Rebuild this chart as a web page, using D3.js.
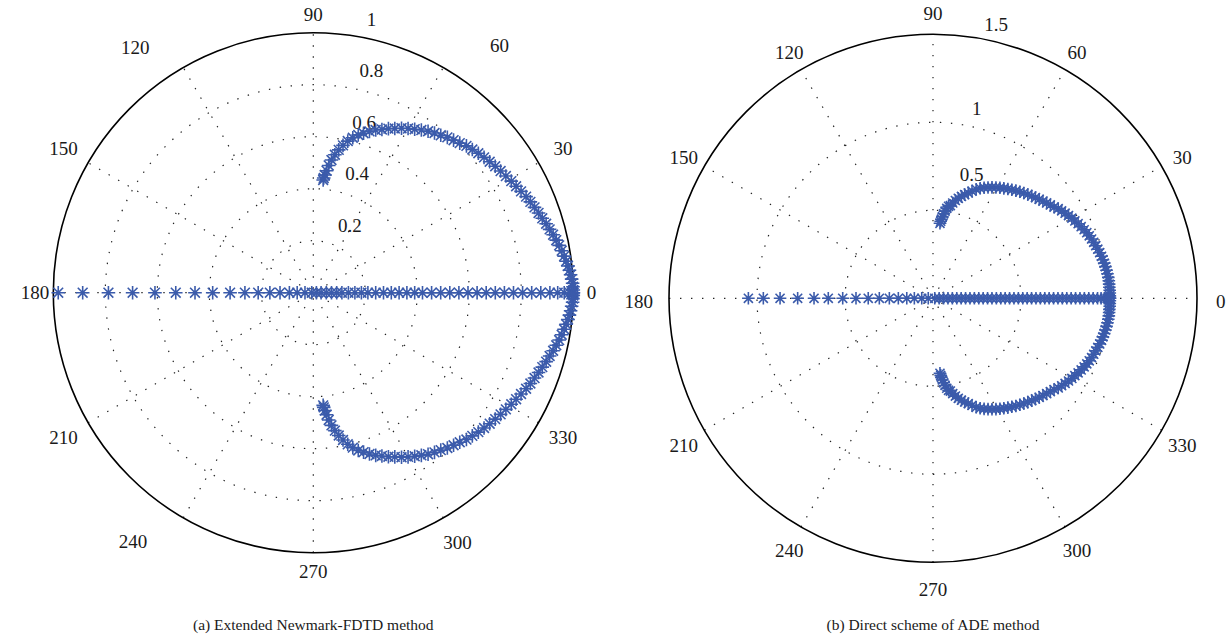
<!DOCTYPE html>
<html>
<head>
<meta charset="utf-8">
<script src="https://cdn.jsdelivr.net/npm/d3@7"></script>
<style>
  body { margin: 0; background: #fff; }
  text { font-family: "Liberation Serif", "DejaVu Serif", serif; fill: #1a1a1a; }
</style>
</head>
<body>
<svg id="chart" width="1230" height="642"></svg>
<script>
// angle tick labels (degrees)
const angleTicks = [0, 30, 60, 90, 120, 150, 180, 210, 240, 270, 300, 330];

// radial ticks of each panel
const leftRings = [0.2, 0.4, 0.6, 0.8, 1];
const rightRings = [0.5, 1, 1.5];

// (a) Extended Newmark-FDTD: complex branch, upper half [angle deg], [magnitude]
// (the lower half is its complex conjugate)
const leftArcAngle = [0, 0.6, 1.3, 2.1, 3.0, 4.0, 5.0, 6.0, 7.1, 8.3, 9.6, 10.9, 12.2, 13.6, 15.0,
  16.5, 18.0, 19.5, 21.1, 22.7, 24.3, 26.0, 27.7, 29.4, 31.2, 33.0, 34.8, 36.6, 38.4, 40.2, 42.0,
  43.8, 45.6, 47.4, 49.2, 51.0, 52.8, 54.6, 56.4, 58.2, 60.0, 61.8, 63.6, 65.4, 67.2, 69.0, 70.8,
  72.5, 74.1, 75.7, 77.2, 78.6, 79.9, 81.1, 82.2, 83.1, 83.8, 84.4, 84.8, 85.0];
const leftArcMag = [1.000, 1.000, 0.999, 0.998, 0.995, 0.992, 0.989, 0.985, 0.980, 0.975, 0.969,
  0.963, 0.956, 0.949, 0.941, 0.934, 0.926, 0.919, 0.912, 0.905, 0.898, 0.889, 0.881, 0.874, 0.866,
  0.859, 0.852, 0.845, 0.838, 0.831, 0.823, 0.816, 0.805, 0.797, 0.789, 0.779, 0.771, 0.762, 0.751,
  0.740, 0.729, 0.718, 0.705, 0.694, 0.681, 0.670, 0.657, 0.643, 0.631, 0.615, 0.598, 0.578, 0.558,
  0.537, 0.515, 0.493, 0.472, 0.455, 0.443, 0.435];
// (a) real branch: magnitudes on the negative and positive real axis
const leftRealNeg = [0.981, 0.887, 0.788, 0.695, 0.609, 0.529, 0.455, 0.387, 0.320, 0.263, 0.212,
  0.167, 0.128, 0.092, 0.062, 0.032, 0.006];
const leftRealPos = [0.012, 0.03, 0.05, 0.07, 0.09, 0.11, 0.135, 0.16, 0.185, 0.21, 0.24, 0.27, 0.30,
  0.33, 0.36, 0.39, 0.42, 0.455, 0.49, 0.525, 0.56, 0.595, 0.63, 0.665, 0.70, 0.735, 0.77, 0.805,
  0.84, 0.875, 0.91, 0.94, 0.965, 0.985, 0.995, 1.0];

// (b) Direct scheme of ADE: complex branch, upper half
const rightArcAngle = [0, 0.8, 1.7, 2.6, 3.6, 4.6, 5.7, 6.8, 8.0, 9.2, 10.4, 11.6, 12.8, 14.0, 15.3,
  16.6, 17.9, 19.2, 20.5, 21.8, 23.1, 24.4, 25.8, 27.2, 28.6, 30.0, 31.4, 32.8, 34.2, 35.6, 37.0,
  38.5, 40.0, 41.5, 43.0, 44.5, 46.0, 47.6, 49.2, 50.8, 52.4, 54.0, 55.6, 57.2, 58.8, 60.4, 62.0,
  63.6, 65.2, 66.8, 68.4, 70.0, 71.5, 73.0, 74.4, 75.8, 77.1, 78.3, 79.4, 80.4, 81.3, 82.1, 82.8,
  83.4, 83.9, 84.3, 84.7];
const rightArcMag = [1.005, 1.005, 1.005, 1.005, 1.004, 1.004, 1.004, 1.003, 1.001, 0.999, 0.996,
  0.993, 0.990, 0.987, 0.982, 0.977, 0.972, 0.967, 0.962, 0.956, 0.950, 0.943, 0.935, 0.927, 0.918,
  0.911, 0.902, 0.893, 0.884, 0.875, 0.861, 0.852, 0.843, 0.834, 0.825, 0.816, 0.808, 0.799, 0.790,
  0.781, 0.772, 0.762, 0.753, 0.743, 0.734, 0.724, 0.714, 0.703, 0.692, 0.680, 0.666, 0.648, 0.631,
  0.616, 0.601, 0.586, 0.570, 0.553, 0.536, 0.530, 0.517, 0.500, 0.484, 0.467, 0.452, 0.440, 0.428];
const rightRealNeg = [1.049, 0.964, 0.869, 0.769, 0.676, 0.595, 0.513, 0.4375, 0.368, 0.305, 0.248,
  0.197, 0.149, 0.106, 0.064, 0.027];
const rightRealPos = [0.01, 0.035, 0.06, 0.085, 0.11, 0.135, 0.16, 0.185, 0.21, 0.235, 0.26, 0.285,
  0.31, 0.335, 0.36, 0.385, 0.41, 0.435, 0.46, 0.485, 0.51, 0.535, 0.56, 0.585, 0.61, 0.635, 0.66,
  0.685, 0.71, 0.735, 0.76, 0.785, 0.81, 0.835, 0.86, 0.885, 0.91, 0.935, 0.955, 0.975, 0.99, 1.0, 1.005];

const captions = ['(a) Extended Newmark-FDTD method', '(b) Direct scheme of ADE method'];

const svg = d3.select('#chart');
const rad = a => a * Math.PI / 180;
const blue = '#3b5bab';

// MATLAB style '*' marker
function star(s) {
  var d = s * 0.72;
  return `M${-s},0L${s},0M0,${-s}L0,${s}M${-d},${-d}L${d},${d}M${-d},${d}L${d},${-d}`;
}

function drawPolar(cfg) {
  var g = svg.append('g').attr('transform', `translate(${cfg.cx},${cfg.cy})`);
  var rmax = cfg.rings[cfg.rings.length - 1];
  var r = d3.scaleLinear().domain([0, rmax]).range([0, cfg.R]);
  var rinc = cfg.rings[0];

  // dotted spokes through the centre
  g.selectAll('.spoke')
  .data(angleTicks.filter(a => a < 180))
  .enter()
  .append('line')
  .attr('x1', a => -cfg.R * Math.cos(rad(a)))
  .attr('y1', a => cfg.R * Math.sin(rad(a)))
  .attr('x2', a => cfg.R * Math.cos(rad(a)))
  .attr('y2', a => -cfg.R * Math.sin(rad(a)))
  .attr('stroke', '#222')
  .attr('stroke-width', 1.2)
  .attr('stroke-dasharray', '1.4 9.6');

  // dotted rings
  g.selectAll('.ring')
  .data(cfg.rings.slice(0, -1))
  .enter()
  .append('circle')
  .attr('r', d => r(d))
  .attr('fill', 'none')
  .attr('stroke', '#222')
  .attr('stroke-width', 1.2)
  .attr('stroke-dasharray', '1.4 9.6');

  // outer circle
  g.append('circle')
  .attr('r', cfg.R)
  .attr('fill', 'none')
  .attr('stroke', '#000')
  .attr('stroke-width', 1.6);

  // angle labels
  var labelPos = function (a) {
    var o = cfg.labelMove[a];
    var ang = o ? o[0] : a;
    var k = o ? o[1] : cfg.labelR(a);
    return [cfg.R * k * Math.cos(rad(ang)), -cfg.R * k * Math.sin(rad(ang)) + cfg.labelShift];
  };
  g.selectAll('.alabel')
  .data(angleTicks)
  .enter()
  .append('text')
  .attr('x', a => labelPos(a)[0])
  .attr('y', a => labelPos(a)[1])
  .attr('dy', '0.35em')
  .attr('text-anchor', 'middle')
  .style('font-size', '19px')
  .text(a => a);

  // radial labels at 82 degrees
  g.selectAll('.rlabel')
  .data(cfg.rings)
  .enter()
  .append('text')
  .attr('x', d => r(d + rinc / 20) * Math.cos(rad(82)) + cfg.rdx)
  .attr('y', d => -r(d + rinc / 20) * Math.sin(rad(82)) + cfg.rdy - (cfg.lift[d] || 0))
  .style('font-size', '19px')
  .text(d => d);

  // collect all points: real branch and complex-conjugate branch
  var pts = [];
  cfg.realNeg.forEach(m => pts.push([180, m]));
  cfg.realPos.forEach(m => pts.push([0, m]));
  cfg.arcAngle.forEach((a, i) => {
    pts.push([a, cfg.arcMag[i]]);
    pts.push([-a, cfg.arcMag[i]]);
  });

  g.selectAll('.pt')
  .data(pts)
  .enter()
  .append('path')
  .attr('d', star(cfg.ms))
  .attr('transform', p => `translate(${r(p[1]) * Math.cos(rad(p[0]))},${-r(p[1]) * Math.sin(rad(p[0]))})`)
  .attr('fill', 'none')
  .attr('stroke', blue)
  .attr('stroke-width', 1.6);

  svg.append('text')
  .attr('x', cfg.cx)
  .attr('y', 630)
  .attr('text-anchor', 'middle')
  .style('font-size', '15.5px')
  .text(cfg.caption);
}

drawPolar({
  cx: 313.3, cy: 292.7, R: 260, rings: leftRings,
  labelR: a => 1.07 + 0.045 * Math.abs(Math.sin(rad(2 * a))), labelShift: 0,
  labelMove: {60: [53, 1.19], 120: [126, 1.165], 240: [234, 1.18]},
  rdx: 17, rdy: -7, lift: {},
  realNeg: leftRealNeg, realPos: leftRealPos, arcAngle: leftArcAngle, arcMag: leftArcMag,
  ms: 6.8, caption: captions[0]
});

drawPolar({
  cx: 933, cy: 298.3, R: 264, rings: rightRings,
  labelR: a => (a === 180 ? 1.115 : 1.09), labelShift: 3, labelMove: {},
  rdx: 14, rdy: -2, lift: {0.5: 24, 1: 3},
  realNeg: rightRealNeg, realPos: rightRealPos, arcAngle: rightArcAngle, arcMag: rightArcMag,
  ms: 6.3, caption: captions[1]
});
</script>
</body>
</html>
